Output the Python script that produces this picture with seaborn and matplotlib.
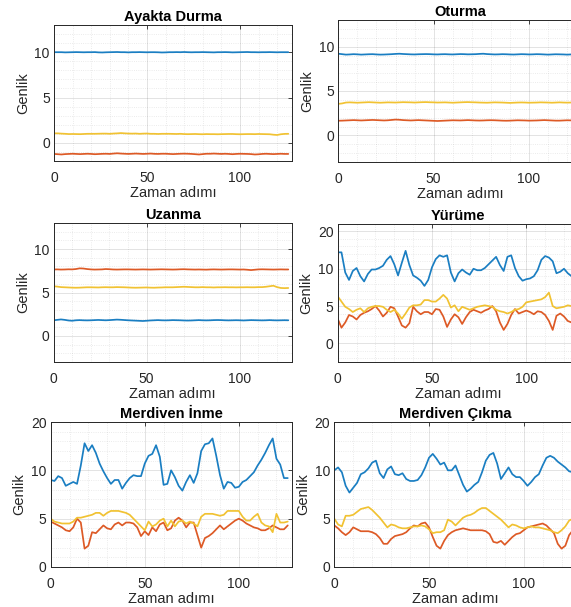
import matplotlib
matplotlib.use("Agg")
import matplotlib.pyplot as plt
import numpy as np
import pandas as pd
import seaborn as sns
from matplotlib.ticker import MultipleLocator

# ---------------- data (time steps 0,2,...,126) ----------------
time_steps = list(range(0, 128, 2))

titles = ["Ayakta Durma", "Oturma", "Uzanma", "Yürüme", "Merdiven İnme", "Merdiven Çıkma"]
x_label = "Zaman adımı"
y_label = "Genlik"
x_ticks = [0, 50, 100]
y_ticks_small = [0, 5, 10]
y_ticks_large = [0, 5, 10, 15]
y_ticklabels_large = ["0", "5", "10", "20"]

ayakta_blue = [10.0, 10.0, 10.0, 9.98, 9.99, 10.0, 10.01, 10.0, 9.99, 10.0, 10.0, 10.01, 9.98, 9.97, 9.99, 10.0,
               10.01, 10.02, 10.0, 10.0, 9.98, 10.0, 10.0, 10.01, 10.0, 9.99, 10.0, 10.0, 9.99, 9.97, 9.98, 10.0,
               10.0, 10.01, 10.0, 10.02, 10.0, 9.99, 10.0, 10.0, 10.01, 10.0, 9.99, 9.98, 10.0, 10.0, 10.01, 10.0,
               9.98, 9.99, 10.0, 10.01, 10.02, 10.0, 10.0, 9.99, 10.0, 10.0, 10.01, 10.0, 9.99, 10.0, 10.0, 10.0]
ayakta_red = [-1.22, -1.25, -1.28, -1.24, -1.22, -1.2, -1.22, -1.24, -1.22, -1.2, -1.22, -1.25, -1.23, -1.21, -1.2, -1.22,
              -1.18, -1.15, -1.18, -1.2, -1.22, -1.2, -1.18, -1.2, -1.22, -1.2, -1.18, -1.21, -1.22, -1.2, -1.2, -1.22,
              -1.24, -1.22, -1.2, -1.19, -1.2, -1.22, -1.25, -1.28, -1.24, -1.2, -1.2, -1.18, -1.2, -1.22, -1.2, -1.22,
              -1.25, -1.22, -1.2, -1.21, -1.22, -1.24, -1.28, -1.26, -1.22, -1.2, -1.22, -1.24, -1.22, -1.2, -1.22, -1.22]
ayakta_yellow = [1.05, 1.05, 1.02, 1.0, 0.97, 0.98, 0.97, 0.96, 0.98, 1.0, 1.0, 1.0, 1.01, 1.02, 1.02, 1.0,
                 1.03, 1.05, 1.08, 1.05, 1.03, 1.02, 1.03, 1.0, 1.02, 1.03, 1.0, 1.0, 0.98, 1.0, 1.0, 1.0,
                 0.99, 0.98, 1.0, 0.97, 0.96, 0.97, 0.98, 0.96, 0.95, 0.97, 0.96, 0.96, 0.95, 0.96, 0.97, 0.98,
                 0.98, 0.96, 0.95, 0.96, 0.97, 0.97, 0.96, 0.98, 0.97, 0.96, 0.95, 0.9, 0.87, 0.95, 0.99, 1.0]

oturma_blue = [9.2, 9.15, 9.1, 9.12, 9.15, 9.13, 9.1, 9.12, 9.14, 9.15, 9.12, 9.1, 9.11, 9.13, 9.15, 9.18,
               9.2, 9.17, 9.15, 9.13, 9.12, 9.14, 9.15, 9.16, 9.15, 9.13, 9.12, 9.14, 9.15, 9.13, 9.12, 9.14,
               9.16, 9.15, 9.13, 9.14, 9.15, 9.18, 9.2, 9.16, 9.14, 9.12, 9.13, 9.15, 9.14, 9.12, 9.11, 9.13,
               9.15, 9.14, 9.12, 9.13, 9.15, 9.14, 9.12, 9.1, 9.12, 9.14, 9.13, 9.12, 9.1, 9.12, 9.13, 9.12]
oturma_red = [1.65, 1.66, 1.68, 1.7, 1.72, 1.7, 1.68, 1.7, 1.72, 1.74, 1.72, 1.7, 1.68, 1.7, 1.74, 1.78,
              1.76, 1.72, 1.7, 1.68, 1.7, 1.72, 1.7, 1.68, 1.66, 1.64, 1.62, 1.64, 1.66, 1.68, 1.7, 1.69,
              1.68, 1.7, 1.72, 1.7, 1.68, 1.67, 1.68, 1.7, 1.71, 1.7, 1.68, 1.66, 1.65, 1.66, 1.68, 1.7,
              1.69, 1.68, 1.66, 1.67, 1.68, 1.7, 1.72, 1.7, 1.68, 1.66, 1.66, 1.68, 1.7, 1.69, 1.68, 1.68]
oturma_yellow = [3.55, 3.6, 3.7, 3.72, 3.7, 3.68, 3.7, 3.72, 3.74, 3.72, 3.7, 3.68, 3.7, 3.72, 3.71, 3.7,
                 3.72, 3.74, 3.73, 3.72, 3.7, 3.72, 3.74, 3.75, 3.73, 3.72, 3.7, 3.71, 3.72, 3.7, 3.68, 3.7,
                 3.72, 3.74, 3.75, 3.73, 3.72, 3.7, 3.69, 3.68, 3.7, 3.72, 3.71, 3.7, 3.68, 3.66, 3.68, 3.7,
                 3.71, 3.7, 3.68, 3.69, 3.7, 3.72, 3.71, 3.7, 3.68, 3.7, 3.72, 3.7, 3.69, 3.7, 3.71, 3.7]

uzanma_blue = [1.8, 1.85, 1.9, 1.85, 1.78, 1.75, 1.8, 1.82, 1.8, 1.79, 1.8, 1.82, 1.84, 1.82, 1.8, 1.82,
               1.85, 1.88, 1.86, 1.83, 1.8, 1.78, 1.76, 1.74, 1.72, 1.75, 1.78, 1.8, 1.82, 1.8, 1.79, 1.8,
               1.82, 1.81, 1.8, 1.78, 1.77, 1.78, 1.8, 1.82, 1.8, 1.79, 1.8, 1.82, 1.83, 1.82, 1.8, 1.79,
               1.8, 1.81, 1.8, 1.78, 1.8, 1.82, 1.81, 1.8, 1.79, 1.8, 1.82, 1.8, 1.79, 1.8, 1.81, 1.8]
uzanma_red = [7.65, 7.66, 7.64, 7.65, 7.67, 7.66, 7.7, 7.78, 7.76, 7.7, 7.66, 7.64, 7.65, 7.66, 7.7, 7.68,
              7.65, 7.64, 7.65, 7.66, 7.66, 7.65, 7.64, 7.65, 7.66, 7.65, 7.64, 7.65, 7.66, 7.67, 7.66, 7.65,
              7.64, 7.65, 7.67, 7.68, 7.66, 7.65, 7.64, 7.65, 7.64, 7.63, 7.65, 7.66, 7.65, 7.64, 7.65, 7.66,
              7.66, 7.65, 7.64, 7.65, 7.62, 7.58, 7.62, 7.66, 7.67, 7.66, 7.65, 7.64, 7.65, 7.66, 7.65, 7.65]
uzanma_yellow = [5.72, 5.68, 5.62, 5.6, 5.58, 5.56, 5.55, 5.56, 5.58, 5.6, 5.6, 5.59, 5.58, 5.6, 5.61, 5.6,
                 5.6, 5.62, 5.61, 5.6, 5.58, 5.56, 5.55, 5.56, 5.57, 5.58, 5.56, 5.55, 5.57, 5.58, 5.6, 5.6,
                 5.6, 5.62, 5.64, 5.66, 5.64, 5.62, 5.6, 5.6, 5.62, 5.6, 5.6, 5.58, 5.6, 5.6, 5.61, 5.6,
                 5.6, 5.59, 5.6, 5.6, 5.61, 5.6, 5.6, 5.62, 5.62, 5.66, 5.72, 5.78, 5.62, 5.52, 5.5, 5.52]

yurume_blue = [12.2, 12.2, 9.5, 8.5, 9.7, 10.1, 9.0, 8.3, 9.3, 9.9, 9.9, 10.1, 10.4, 11.2, 11.7, 10.6,
               9.1, 10.8, 12.4, 10.5, 9.1, 8.8, 8.4, 7.7, 8.5, 10.2, 11.3, 11.8, 11.6, 11.8, 9.5, 8.3,
               9.4, 9.9, 9.5, 9.2, 10.0, 9.8, 9.8, 10.1, 10.6, 11.1, 11.6, 10.5, 9.7, 11.6, 11.8, 10.1,
               9.0, 8.4, 8.6, 8.7, 9.0, 9.8, 11.2, 11.7, 11.5, 11.0, 9.4, 9.6, 10.0, 9.4, 9.0, 9.2]
yurume_red = [3.3, 2.1, 2.8, 3.8, 3.6, 3.2, 3.8, 4.1, 4.3, 4.6, 5.0, 4.4, 3.6, 4.1, 4.9, 4.7,
              3.6, 2.4, 2.1, 2.7, 4.9, 4.3, 3.9, 4.2, 4.2, 3.9, 4.6, 4.5, 3.6, 2.2, 3.2, 3.9,
              3.5, 2.6, 3.5, 4.2, 4.5, 4.3, 4.1, 4.4, 4.6, 5.0, 4.3, 2.8, 1.8, 2.6, 3.8, 4.6,
              4.0, 4.2, 4.4, 4.2, 3.9, 4.3, 4.2, 3.8, 3.0, 1.8, 3.7, 4.0, 3.6, 3.0, 2.8, 3.0]
yurume_yellow = [6.3, 5.6, 4.9, 4.6, 4.2, 4.5, 4.7, 4.2, 4.7, 4.9, 5.0, 5.0, 4.9, 4.5, 4.2, 4.5,
                 4.0, 3.3, 4.0, 4.8, 5.1, 5.1, 5.2, 5.8, 5.8, 5.6, 5.6, 6.0, 6.5, 6.0, 4.8, 5.1,
                 4.3, 4.9, 4.7, 4.5, 4.7, 4.9, 5.0, 5.1, 5.0, 4.9, 4.5, 4.3, 4.2, 4.0, 4.2, 4.5,
                 4.6, 4.9, 5.5, 5.6, 5.7, 5.8, 5.9, 6.2, 6.8, 5.0, 4.7, 4.8, 4.9, 5.1, 5.0, 5.0]

inme_blue = [9.0, 8.9, 9.4, 9.2, 8.4, 8.6, 8.8, 8.6, 10.5, 12.8, 12.0, 12.6, 11.8, 10.7, 9.9, 9.2,
             8.6, 9.0, 9.0, 8.1, 8.7, 9.2, 9.5, 9.4, 9.4, 10.7, 11.5, 11.7, 12.6, 11.4, 8.5, 8.6,
             10.0, 9.3, 8.4, 7.9, 8.8, 9.5, 8.7, 9.7, 12.0, 12.7, 12.8, 13.3, 11.5, 9.5, 8.1, 8.8,
             8.7, 8.2, 8.3, 8.8, 9.0, 9.4, 9.8, 10.5, 11.1, 11.8, 12.6, 13.3, 11.2, 10.6, 9.2, 9.2]
inme_red = [4.7, 4.5, 4.3, 4.1, 3.8, 3.7, 4.1, 5.0, 4.6, 1.9, 2.2, 3.6, 3.5, 3.9, 4.3, 4.0,
            3.9, 4.4, 4.6, 4.3, 4.6, 4.6, 4.5, 4.1, 3.2, 3.7, 3.3, 4.1, 3.7, 4.4, 4.6, 3.8,
            4.0, 4.8, 5.1, 4.8, 4.1, 4.6, 4.6, 3.3, 2.0, 3.0, 3.2, 3.5, 3.9, 4.3, 3.9, 4.2,
            4.5, 4.8, 5.0, 4.8, 4.5, 4.3, 4.1, 4.0, 3.8, 3.8, 4.0, 4.3, 4.1, 3.9, 3.9, 4.3]
inme_yellow = [5.0, 4.7, 4.6, 4.5, 4.5, 4.5, 4.7, 5.1, 5.1, 5.2, 5.3, 5.4, 5.6, 5.6, 5.3, 5.6,
               5.8, 5.8, 5.8, 5.7, 5.6, 5.4, 5.0, 4.6, 4.2, 3.8, 4.7, 4.2, 4.4, 4.8, 5.0, 4.2,
               4.8, 4.2, 4.7, 4.8, 4.5, 4.7, 4.5, 4.2, 5.2, 5.5, 5.5, 5.5, 5.4, 5.3, 5.4, 5.8,
               5.8, 5.8, 5.8, 5.2, 4.8, 4.8, 5.2, 5.5, 4.6, 4.3, 4.2, 3.6, 5.5, 4.6, 4.6, 4.7]

cikma_blue = [10.0, 10.3, 9.8, 8.4, 7.7, 8.2, 8.7, 9.6, 9.8, 10.2, 10.8, 11.0, 9.7, 9.2, 10.1, 10.4,
              9.6, 9.5, 9.7, 9.1, 8.9, 8.9, 9.0, 9.5, 10.3, 11.3, 11.7, 11.2, 10.6, 10.8, 10.0, 10.0,
              10.5, 9.5, 8.5, 7.8, 8.1, 8.5, 8.8, 9.8, 11.0, 11.6, 11.8, 10.7, 9.1, 9.7, 10.3, 9.6,
              9.3, 9.3, 8.9, 8.4, 8.8, 9.3, 9.6, 10.5, 11.3, 11.5, 11.3, 10.9, 10.6, 10.3, 9.9, 9.8]
cikma_red = [4.3, 4.0, 3.6, 3.3, 3.6, 4.1, 3.9, 3.7, 3.7, 3.7, 3.6, 3.4, 3.0, 2.4, 2.4, 2.9,
             3.2, 3.3, 3.4, 3.6, 4.0, 4.3, 4.2, 4.5, 4.6, 4.1, 3.1, 2.2, 1.9, 2.7, 3.3, 3.6,
             3.8, 3.9, 4.0, 3.9, 3.8, 3.8, 3.8, 3.8, 3.7, 3.4, 2.6, 2.5, 2.7, 2.3, 2.7, 3.1,
             3.4, 3.5, 3.8, 4.1, 4.2, 4.3, 4.4, 4.5, 4.3, 3.9, 3.5, 2.4, 1.9, 2.2, 3.3, 3.8]
cikma_yellow = [5.0, 4.4, 4.2, 5.3, 5.3, 5.4, 5.7, 6.0, 6.1, 6.2, 5.9, 5.5, 5.1, 4.6, 4.1, 4.4,
                4.3, 4.1, 4.0, 4.0, 4.1, 4.2, 4.2, 4.3, 4.2, 3.9, 3.5, 3.6, 3.6, 3.8, 4.9, 4.7,
                4.3, 4.7, 5.1, 5.3, 5.4, 5.6, 5.9, 6.1, 6.1, 5.8, 5.5, 5.2, 4.9, 4.5, 4.1, 4.4,
                4.3, 4.1, 4.0, 4.1, 4.2, 4.1, 4.1, 4.0, 3.9, 3.8, 3.6, 3.5, 3.8, 4.2, 4.8, 5.0]

series_order = ["s1", "s2", "s3"]
line_colors = ["#1a7ec2", "#dd5a26", "#f1c232"]

panel_series = [
    (ayakta_blue, ayakta_red, ayakta_yellow),
    (oturma_blue, oturma_red, oturma_yellow),
    (uzanma_blue, uzanma_red, uzanma_yellow),
    (yurume_blue, yurume_red, yurume_yellow),
    (inme_blue, inme_red, inme_yellow),
    (cikma_blue, cikma_red, cikma_yellow),
]

# ---------------- layout ----------------
W, H = 571, 607
def rect(l, r, t, b):
    return [l / W, 1 - b / H, (r - l) / W, (b - t) / H]

rects = [
    rect(54, 292, 25, 161),
    rect(338.3, 582.4, 20, 162),
    rect(53.5, 292, 223, 362),
    rect(337.7, 579.1, 224, 362),
    rect(50.7, 291.5, 422, 567),
    rect(334.3, 576.7, 422, 567),
]
ylims = [(-2, 13), (-3, 13), (-3, 13), (-2.5, 16), (0, 15), (0, 15)]

sns.set_style("white")
plt.rcParams["font.family"] = ["Liberation Sans", "DejaVu Sans"]

fig = plt.figure(figsize=(W / 100, H / 100), dpi=100)
axis_col = "#262626"

for i, (series, title) in enumerate(zip(panel_series, titles)):
    for s in series:
        assert len(s) == len(time_steps)
    ax = fig.add_axes(rects[i])
    df = pd.DataFrame({
        "t": time_steps * 3,
        "v": list(series[0]) + list(series[1]) + list(series[2]),
        "s": [n for n in series_order for _ in time_steps],
    })
    sns.lineplot(data=df, x="t", y="v", hue="s", hue_order=series_order,
                 palette=line_colors, legend=False, ax=ax, linewidth=1.25,
                 solid_joinstyle="round", solid_capstyle="round")
    ax.set_xlim(0, 128)
    ax.set_ylim(*ylims[i])
    ax.set_xticks(x_ticks)
    if i < 3:
        ax.set_yticks(y_ticks_small)
    else:
        ax.set_yticks(y_ticks_large)
        ax.set_yticklabels(y_ticklabels_large)
    ax.xaxis.set_minor_locator(MultipleLocator(10))
    ax.yaxis.set_minor_locator(MultipleLocator(1))
    ax.grid(which="major", color=axis_col, alpha=0.15, linewidth=0.6)
    ax.grid(which="minor", color=axis_col, alpha=0.12, linewidth=0.6, linestyle=":")
    ax.set_axisbelow(True)
    ax.tick_params(which="major", direction="in", length=3, width=0.6, top=True, right=True,
                   labelsize=10, colors=axis_col)
    ax.tick_params(axis="x", which="major", pad=7)
    ax.tick_params(axis="y", which="major", pad=3)
    ax.tick_params(which="minor", length=0)
    for sp in ax.spines.values():
        sp.set_color(axis_col)
        sp.set_linewidth(0.7)
    ax.set_title(title, fontsize=10.5, fontweight="bold", pad=3, color="black")
    ax.set_xlabel(x_label, fontsize=10.5, labelpad=1, color=axis_col)
    ax.set_ylabel(y_label, fontsize=10.5, labelpad=3, color=axis_col)

fig.savefig("out.png", dpi=100)
